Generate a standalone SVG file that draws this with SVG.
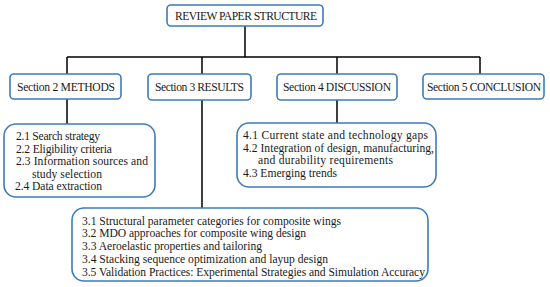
<svg xmlns="http://www.w3.org/2000/svg" width="550" height="287" viewBox="0 0 550 287">
<style>
.box{fill:#ffffff;stroke:#3d7cb8;stroke-width:1.6}
text{font-family:'Liberation Serif','Times New Roman','DejaVu Serif',serif;font-size:11.6px;fill:#1a1a1a}
.c{fill:none;stroke:#000000;stroke-width:1.5}
</style>
<rect width="550" height="287" fill="#ffffff"/>
<g id="connectors">
<path class="c" d="M245 26V57M67 57H480M67 57V74M202 57V74M337 57V74M480 57V74"/>
<path class="c" d="M67 99V124M202 100V208M337 100V123"/>
</g>
<g id="title">
<rect class="box" x="167" y="5" width="156" height="21" rx="4"/>
<text x="175" y="19.5" textLength="142">REVIEW PAPER STRUCTURE</text>
</g>
<g id="methods">
<rect class="box" x="10" y="74" width="111" height="25" rx="4"/>
<text x="17" y="91" textLength="98">Section 2 METHODS</text>
</g>
<g id="results">
<rect class="box" x="148" y="74" width="103" height="26" rx="4"/>
<text x="155" y="91" textLength="89">Section 3 RESULTS</text>
</g>
<g id="discussion">
<rect class="box" x="277" y="74" width="120" height="26" rx="4"/>
<text x="283" y="91" textLength="108">Section 4 DISCUSSION</text>
</g>
<g id="conclusion">
<rect class="box" x="423" y="74" width="121" height="25" rx="4"/>
<text x="427" y="91" textLength="114">Section 5 CONCLUSION</text>
</g>
<g id="methods-items">
<rect class="box" x="4" y="124" width="151" height="73" rx="12"/>
<text x="16" y="140" textLength="84">2.1 Search strategy</text>
<text x="16" y="152.5" textLength="96">2.2 Eligibility criteria</text>
<text x="16" y="165" textLength="132">2.3 Information sources and</text>
<text x="32" y="177.5" textLength="70">study selection</text>
<text x="15" y="189.5" textLength="87">2.4 Data extraction</text>
</g>
<g id="discussion-items">
<rect class="box" x="237" y="123" width="199" height="64" rx="12"/>
<text x="243" y="139" textLength="185">4.1 Current state and technology gaps</text>
<text x="243" y="151.5" textLength="191">4.2 Integration of design, manufacturing,</text>
<text x="258" y="164" textLength="135">and durability requirements</text>
<text x="243" y="176.5" textLength="94">4.3 Emerging trends</text>
</g>
<g id="results-items">
<rect class="box" x="72" y="208" width="356" height="73" rx="12"/>
<text x="82" y="224.5" textLength="259">3.1 Structural parameter categories for composite wings</text>
<text x="82" y="237.2" textLength="224">3.2 MDO approaches for composite wing design</text>
<text x="82" y="250" textLength="180">3.3 Aeroelastic properties and tailoring</text>
<text x="82" y="262.7" textLength="246">3.4 Stacking sequence optimization and layup design</text>
<text x="82" y="275.5" textLength="343">3.5 Validation Practices: Experimental Strategies and Simulation Accuracy</text>
</g>
</svg>
